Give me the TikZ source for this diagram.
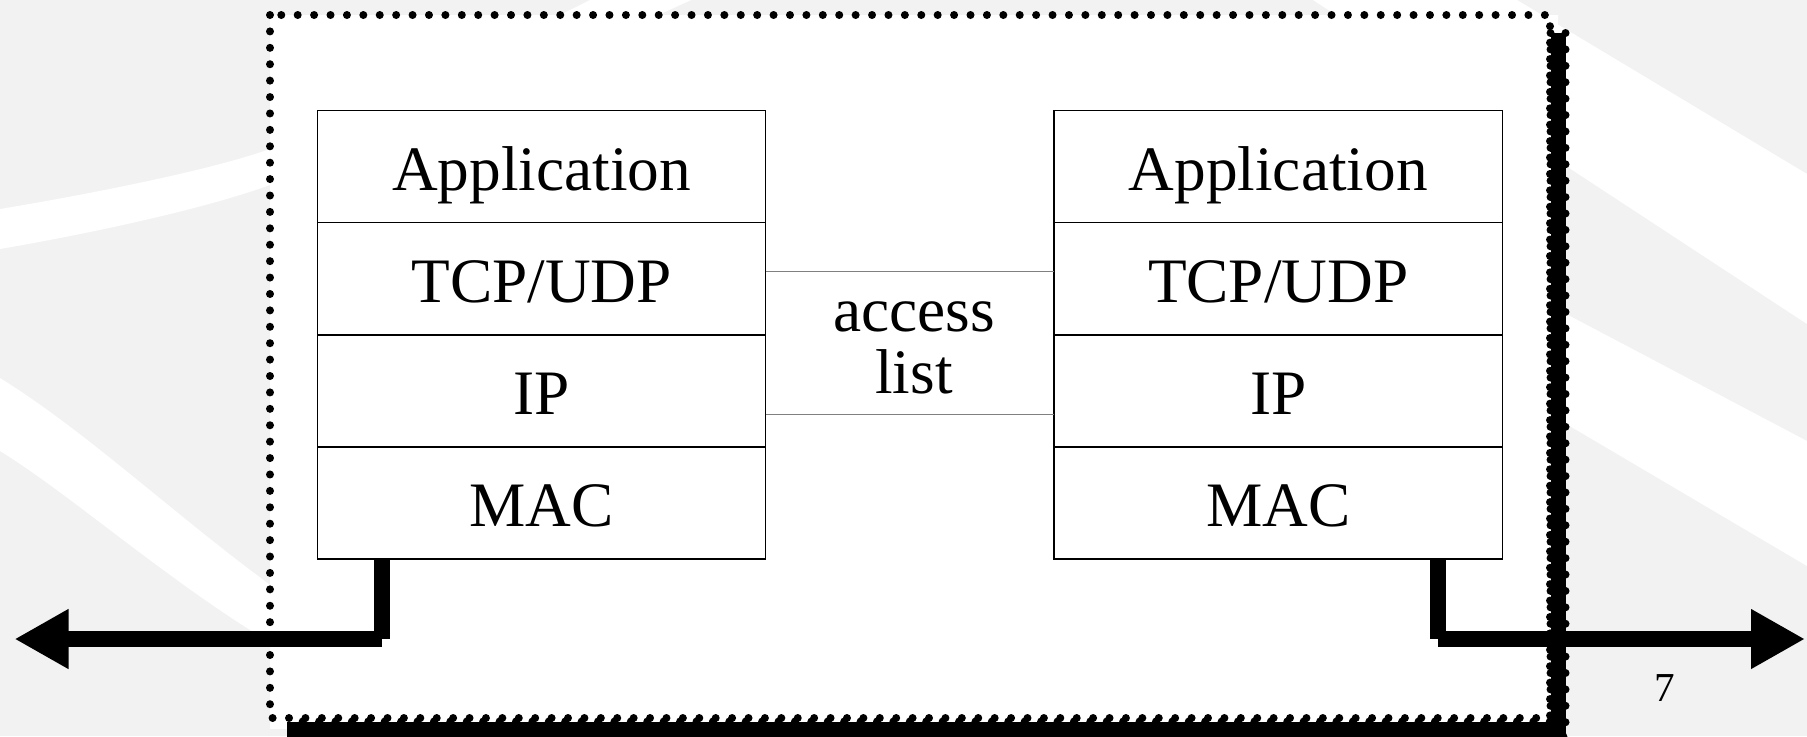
\documentclass[tikz,border=0pt]{standalone}
\usepackage{fontspec}
\setmainfont{Liberation Serif}
\usetikzlibrary{positioning, arrows.meta}

\begin{document}
\begin{tikzpicture}[x=0.01cm, y=-0.01cm,
        layer/.style={draw, line width=0.013cm, fill=white, minimum width=4.48cm, minimum height=1.12cm,
            inner sep=0pt, outer sep=0pt, text height=0.47cm, text depth=0pt, font=\fontsize{18}{18}\selectfont},
        wire/.style={line width=0.157cm},
        bigtip/.style={-{Triangle[length=0.54cm, width=0.56cm]}},
        acl/.style={draw=gray, line width=0.01cm},
        dotline/.style={line width=0.08cm, line cap=round, dash pattern=on 0pt off 0.164cm}]
                \useasboundingbox (0,0) rectangle (1807,736);
                % backdrop with its white swooshes
                \fill[black!5] (0,0) rectangle (1807,736);
                \fill[white] plot[smooth] coordinates {(0,209) (270,149) (600,-5)} -- plot[smooth] coordinates {(702,-5) (270,185) (0,249)} -- cycle;
                \fill[white] (0,378) .. controls (100,440) and (200,540) .. (320,620) -- (320,670) .. controls (200,610) and (80,500) .. (0,451) -- cycle;
                \fill[white] (1313,0) -- (1517,0) -- (1807,174) -- (1807,324) -- cycle;
                \fill[white] (1550,305.5) -- (1807,441) -- (1807,566) -- (1550,414.4) -- cycle;
                % dotted frame and its heavy shadow
                \fill[white] (270,15) rectangle (1558,729);
                \draw[line width=0.15cm] (1558,33) -- (1558,729) -- (287,729);
                \draw[dotline] (1550.5,33) -- (1550.5,721.5) -- (287,721.5);
                \draw[dotline] (1565.5,33) -- (1565.5,736.5) -- (287,736.5);
                \draw[dotline] (270,15) rectangle (1550,718);
                % the two stacks
                \node[layer] (appL) at (541.6,166.8) {Application};
                \node[layer, below=0pt of appL] (tcpL) {TCP/UDP};
                \node[layer, below=0pt of tcpL] (ipL) {IP};
                \node[layer, below=0pt of ipL] (macL) {MAC};
                \node[layer] (appR) at (1278.2,166.8) {Application};
                \node[layer, below=0pt of appR] (tcpR) {TCP/UDP};
                \node[layer, below=0pt of tcpR] (ipR) {IP};
                \node[layer, below=0pt of ipR] (macR) {MAC};
                % access list between them
                \draw[acl] ([yshift=0.078cm]tcpL.east) -- ([yshift=0.078cm]tcpR.west);
                \draw[acl] ([yshift=-0.235cm]ipL.east) -- ([yshift=-0.235cm]ipR.west);
                \node[font=\fontsize{18}{17.5}\selectfont, align=center] (acc) at (914,348) {access\\list};
                % links out of the MAC layers
                \coordinate (kneeL) at (381.8,639);
                \coordinate (endL) at (14.5,639);
                \coordinate (kneeR) at (1437.8,639);
                \coordinate (endR) at (1805,639);
                \draw[wire] (macL.south -| kneeL) -- (kneeL);
                \draw[wire, bigtip] (kneeL) -- (endL);
                \draw[wire] (macR.south -| kneeR) -- (kneeR);
                \draw[wire, bigtip] (kneeR) -- (endR);
                \node (pgnum) at (1665,688) {\fontsize{11.7}{12}\selectfont 7};
            \end{tikzpicture}
\end{document}
